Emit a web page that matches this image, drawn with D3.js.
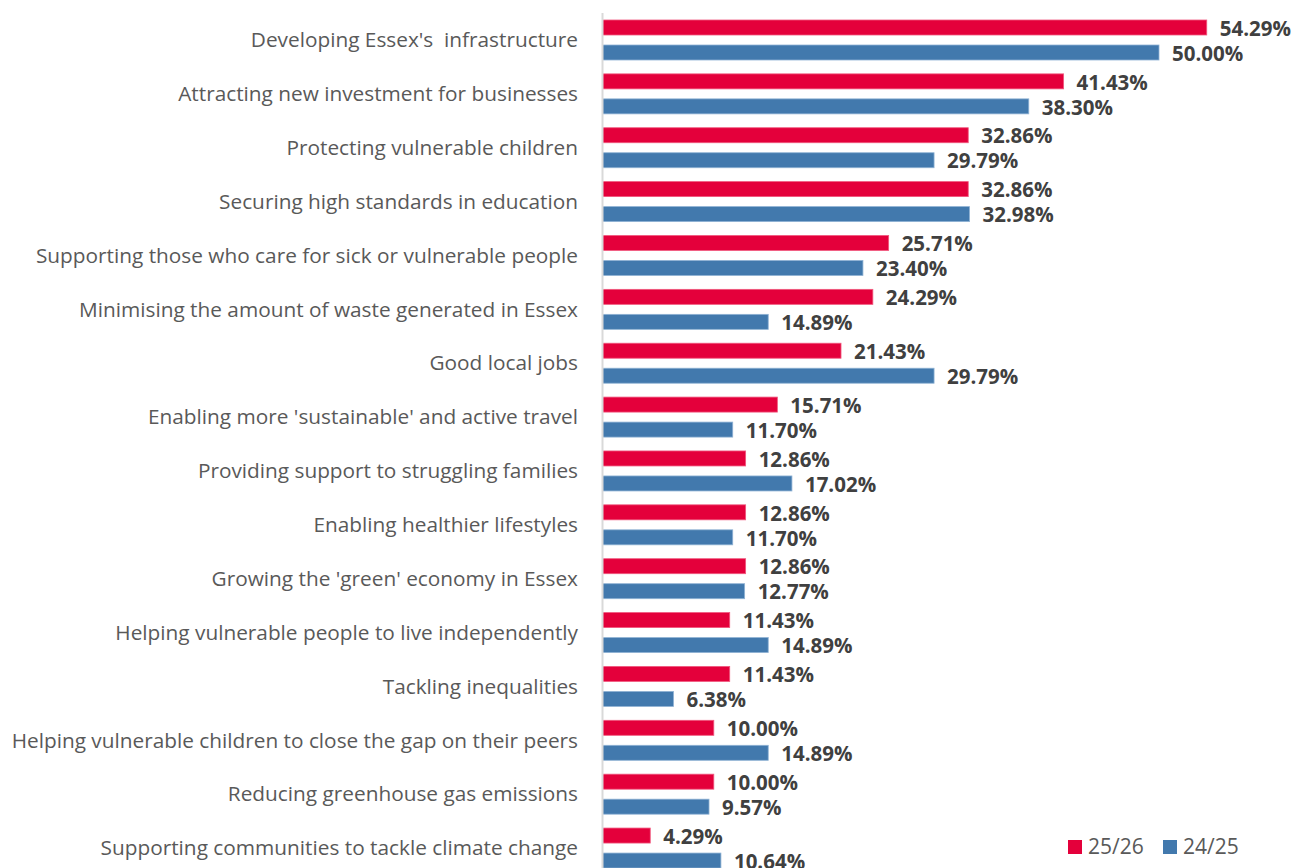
<!DOCTYPE html>
<html>
<head>
<meta charset="utf-8">
<script src="https://cdn.jsdelivr.net/npm/d3@7"></script>
<style>
  html, body { margin: 0; padding: 0; background: #ffffff; overflow: hidden; }
  svg { display: block; }
</style>
</head>
<body>
<svg id="chart" width="1293" height="868"></svg>
<script>
// Priority areas, share of respondents (%)
const categories = [
  "Developing Essex's  infrastructure",
  "Attracting new investment for businesses",
  "Protecting vulnerable children",
  "Securing high standards in education",
  "Supporting those who care for sick or vulnerable people",
  "Minimising the amount of waste generated in Essex",
  "Good local jobs",
  "Enabling more 'sustainable' and active travel",
  "Providing support to struggling families",
  "Enabling healthier lifestyles",
  "Growing the 'green' economy in Essex",
  "Helping vulnerable people to live independently",
  "Tackling inequalities",
  "Helping vulnerable children to close the gap on their peers",
  "Reducing greenhouse gas emissions",
  "Supporting communities to tackle climate change"
];
const values2526 = [54.29, 41.43, 32.86, 32.86, 25.71, 24.29, 21.43, 15.71, 12.86, 12.86, 12.86, 11.43, 11.43, 10.00, 10.00, 4.29];
const values2425 = [50.00, 38.30, 29.79, 32.98, 23.40, 14.89, 29.79, 11.70, 17.02, 11.70, 12.77, 14.89, 6.38, 14.89, 9.57, 10.64];
const seriesNames = ["25/26", "24/25"];

const series = [
  { name: seriesNames[0], values: values2526, fill: "#E4003B", stroke: "#F0587E" },
  { name: seriesNames[1], values: values2425, fill: "#4279AD", stroke: "#8FB2D4" }
];

const svg = d3.select("#chart");
const axisX = 602.5;

const x = d3.scaleLinear().domain([0, 60]).range([axisX, axisX + 60 * 11.13]);
const y = d3.scaleBand().domain(categories).range([13, 13 + 16 * 53.87]).paddingInner(0).paddingOuter(0);
const sub = d3.scaleBand().domain(seriesNames).range([7, 47]).paddingInner(0.4);

const labelFont = "'Open Sans', Lato, sans-serif";

// category labels
svg.append("g")
  .selectAll("text")
  .data(categories)
  .join("text")
  .attr("x", 578)
  .attr("y", d => y(d) + y.bandwidth() / 2)
  .attr("dy", "0.35em")
  .attr("text-anchor", "end")
  .attr("font-family", labelFont)
  .attr("font-size", 20.8)
  .attr("fill", "#595959")
  .style("white-space", "pre")
  .text(d => d);

// bars and value labels
series.forEach(s => {
  const g = svg.append("g");
  g.selectAll("rect")
    .data(categories)
    .join("rect")
    .attr("x", x(0))
    .attr("y", d => y(d) + sub(s.name))
    .attr("width", (d, i) => x(s.values[i]) - x(0))
    .attr("height", sub.bandwidth())
    .attr("fill", s.fill)
    .attr("stroke", s.stroke)
    .attr("stroke-width", 0.8);

  g.selectAll("text")
    .data(categories)
    .join("text")
    .attr("x", (d, i) => x(s.values[i]) + 13)
    .attr("y", d => y(d) + sub(s.name) + sub.bandwidth() / 2 + 1)
    .attr("dy", "0.35em")
    .attr("font-family", labelFont)
    .attr("font-weight", "bold")
    .attr("font-size", 20.5)
    .attr("fill", "#404040")
    .text((d, i) => s.values[i].toFixed(2) + "%");
});

// vertical axis line
svg.append("line")
  .attr("x1", axisX).attr("x2", axisX)
  .attr("y1", 13).attr("y2", 868)
  .attr("stroke", "#D9D9D9")
  .attr("stroke-width", 2);

// legend
const legend = svg.append("g");
const legendItems = [
  { name: seriesNames[0], fill: series[0].fill, x: 1068 },
  { name: seriesNames[1], fill: series[1].fill, x: 1163 }
];
legendItems.forEach(it => {
  legend.append("rect")
    .attr("x", it.x).attr("y", 840)
    .attr("width", 14).attr("height", 14)
    .attr("fill", it.fill);
  legend.append("text")
    .attr("x", it.x + 20).attr("y", 847)
    .attr("dy", "0.35em")
    .attr("font-family", labelFont)
    .attr("font-size", 21)
    .attr("fill", "#595959")
    .text(it.name);
});
</script>
</body>
</html>
